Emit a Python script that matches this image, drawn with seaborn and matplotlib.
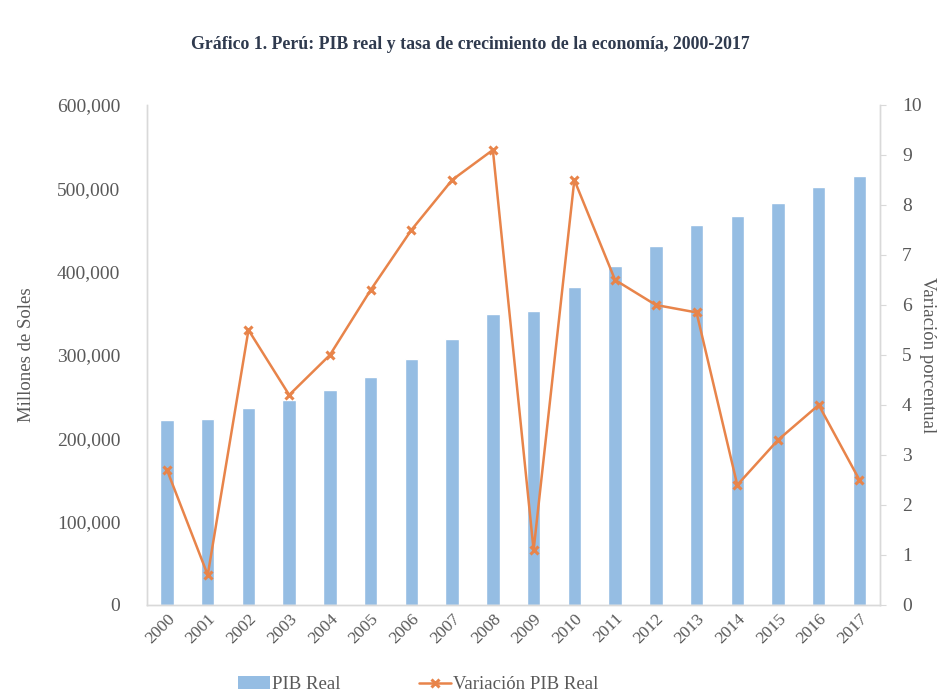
import matplotlib
matplotlib.use("Agg")
import matplotlib.pyplot as plt
from matplotlib.patches import Patch
from matplotlib.lines import Line2D
from matplotlib.ticker import FuncFormatter, MultipleLocator
import seaborn as sns
import pandas as pd

years = ["2000", "2001", "2002", "2003", "2004", "2005", "2006", "2007", "2008",
         "2009", "2010", "2011", "2012", "2013", "2014", "2015", "2016", "2017"]
pib_real = [222207, 223580, 235773, 245593, 257770, 273971, 294598, 319693, 348870,
            352693, 382081, 406256, 431199, 456435, 467308, 482506, 501581, 514215]
variacion = [2.7, 0.6, 5.5, 4.2, 5.0, 6.3, 7.5, 8.5, 9.1,
             1.1, 8.5, 6.5, 6.0, 5.85, 2.4, 3.3, 4.0, 2.5]

df = pd.DataFrame({"year": years, "pib": pib_real, "var": variacion})

sns.set_style("white")
plt.rcParams["font.family"] = ["Liberation Serif", "DejaVu Serif"]

bar_color = "#95BDE3"
line_color = "#E8844A"
txt = "#595959"

fig = plt.figure(figsize=(9.4, 6.95), dpi=100)
ax = fig.add_axes([0.156, 0.1295, 0.78, 0.7195])

sns.barplot(data=df, x="year", y="pib", color=bar_color, width=0.33,
            saturation=1, ax=ax, order=years)
ax.set_ylim(0, 600000)
ax.set_xlim(-0.5, 17.5)
ax.yaxis.set_major_locator(MultipleLocator(100000))
ax.yaxis.set_major_formatter(FuncFormatter(lambda v, p: f"{int(v):,}"))
ax.set_ylabel("Millones de Soles", fontsize=13.5, color=txt, labelpad=16)
ax.set_xlabel("")
ax.tick_params(axis="y", length=0, labelsize=14, labelcolor=txt, pad=19)
ax.tick_params(axis="x", length=0, labelsize=12.5, labelcolor=txt, pad=4)
for lab in ax.get_xticklabels():
    lab.set_rotation(45)
    lab.set_ha("right")
    lab.set_rotation_mode("anchor")

ax2 = ax.twinx()
sns.pointplot(data=df, x="year", y="var", color=line_color, markers="x",
              linewidth=1.8, markersize=6, ax=ax2, order=years)
for l in ax2.lines:
    l.set_markeredgewidth(2.2)
ax2.set_ylim(0, 10)
ax2.set_xlim(-0.5, 17.5)
ax2.yaxis.set_major_locator(MultipleLocator(1))
ax2.set_ylabel("Variación porcentual", fontsize=13.5, color=txt, rotation=270, labelpad=10)
ax2.tick_params(axis="y", length=4, color="#D9D9D9", labelsize=14, labelcolor=txt, pad=12)

for a in (ax, ax2):
    for side, sp in a.spines.items():
        sp.set_color("#D9D9D9")
        sp.set_linewidth(1)
    a.spines["top"].set_visible(False)

fig.suptitle("Gráfico 1. Perú: PIB real y tasa de crecimiento de la economía, 2000-2017",
             x=0.5, y=0.948, fontsize=12.8, fontweight="bold", color="#2F3A4E")

handles = [Patch(facecolor=bar_color, edgecolor="none", label="PIB Real"),
           Line2D([0], [0], color=line_color, marker="x", markersize=6,
                  markeredgewidth=2.2, linewidth=1.8, label="Variación PIB Real")]
fig.legend(handles=handles, loc="lower center", bbox_to_anchor=(0.445, -0.022),
           ncol=2, frameon=False, fontsize=13.5, labelcolor=txt, columnspacing=4.2,
           handlelength=1.7, handletextpad=0.1)

fig.savefig("out.png", dpi=100)
